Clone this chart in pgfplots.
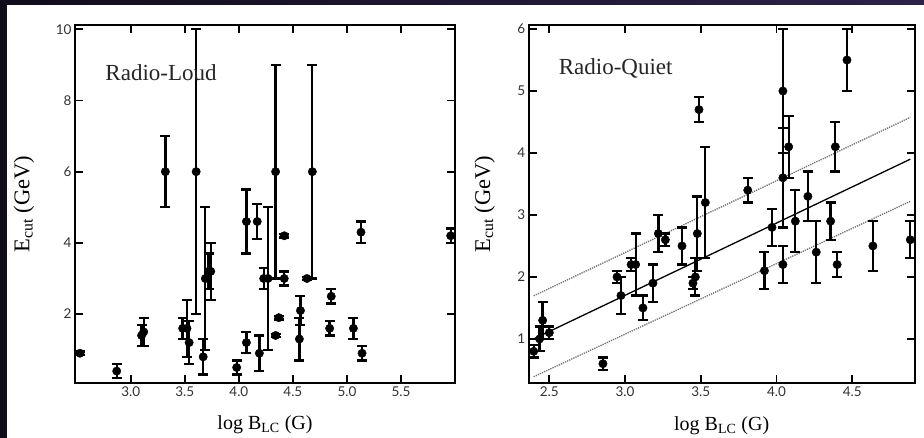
\documentclass[border=0pt]{standalone}
\usepackage{pgfplots}
\pgfplotsset{compat=1.18}
\usepackage{pgfplotstable}
\usepackage{fontspec}
\setmainfont{Liberation Serif}
\newfontfamily\ticksf{Lato}
\definecolor{frameA}{HTML}{110C1A}
\definecolor{frameB}{HTML}{2C2249}

\pgfplotstableread{
x y e
2.53 0.9 0.05
2.87 0.4 0.2
3.10 1.4 0.3
3.12 1.5 0.4
3.48 1.6 0.3
3.52 1.6 0.8
3.54 1.2 0.6
3.32 6.0 1.0
3.605 6.0 4.0
3.67 0.8 0.5
3.69 3.0 2.0
3.72 3.2 0.5
3.74 3.2 0.8
3.98 0.5 0.2
4.07 1.2 0.3
4.07 4.6 0.9
4.17 4.6 0.5
4.19 0.9 0.5
4.23 3.0 0.3
4.27 3.0 2.0
4.34 6.0 3.0
4.34 1.4 0.05
4.37 1.9 0.05
4.42 4.2 0.05
4.42 3.0 0.2
4.56 1.3 0.6
4.57 2.1 0.4
4.63 3.0 0.05
4.68 6.0 3.0
4.84 1.6 0.2
4.855 2.5 0.2
5.06 1.6 0.3
5.13 4.3 0.3
5.14 0.9 0.2
5.96 4.2 0.2
}\loud

\pgfplotstableread{
x y e
2.397 0.8 0.1
2.436 1.0 0.2
2.456 1.3 0.3
2.50 1.1 0.1
2.854 0.6 0.1
2.947 2.0 0.1
2.973 1.7 0.3
3.04 2.2 0.1
3.07 2.2 0.5
3.118 1.5 0.2
3.184 1.9 0.3
3.22 2.7 0.3
3.266 2.6 0.1
3.376 2.5 0.3
3.448 1.9 0.1
3.464 2.0 0.3
3.477 2.7 0.6
3.488 4.7 0.2
3.53 3.2 0.9
3.81 3.4 0.2
3.92 2.1 0.3
3.97 2.8 0.3
4.042 5.0 1.0
4.042 3.6 0.8
4.042 2.2 0.3
4.08 4.1 0.5
4.124 2.9 0.5
4.207 3.3 0.4
4.262 2.4 0.5
4.357 2.9 0.3
4.388 4.1 0.4
4.40 2.2 0.2
4.465 5.5 0.5
4.636 2.5 0.4
4.883 2.6 0.3
}\quiet

\pgfplotsset{
  panel/.style={
    scale only axis,
    anchor=south west,
    axis line style={line width=1.8pt, black},
    tick align=inside,
    major tick length=8pt,
    tick style={line width=1.7pt, black},
    xtick pos=both, ytick pos=both,
    /pgf/number format/assume math mode=true,
    tick label style={font=\ticksf\fontsize{13.5}{14}\selectfont, text=black!80},
    xticklabel style={/pgf/number format/.cd, fixed, fixed zerofill, precision=1},
    xlabel style={font=\fontsize{20}{22}\selectfont, at={(axis description cs:0.5,0)}, anchor=center, yshift=-42pt},
    ylabel style={font=\fontsize{22.5}{24}\selectfont, at={(axis description cs:0,0.5)}, anchor=center},
    clip=false,
  },
  pts/.style={
    only marks, mark=*, mark size=4.2pt, black, mark options={fill=black},
    error bars/.cd, y dir=both, y explicit,
    error bar style={line width=2.3pt, black},
    error mark options={rotate=90, mark size=5pt, line width=2.3pt, black},
  },
}

\begin{document}
\begin{tikzpicture}
\path[use as bounding box] (0,0) rectangle (924pt,438pt);
\fill[frameA] (0,0) rectangle (924pt,438pt);
\shade[left color=frameA, right color=frameB] (0,432.5pt) rectangle (924pt,438pt);
\fill[white] (7pt,0) rectangle (924pt,432.5pt);

\begin{axis}[panel,
  at={(75pt,55pt)}, width=380pt, height=358pt,
  xmin=2.484, xmax=6.0, ymin=0.065, ymax=10.12,
  xtick={3.0,3.5,4.0,4.5,5.0,5.5}, ytick={2,4,6,8,10},
  xlabel={log B\textsubscript{LC} (G)},
  ylabel={E\textsubscript{cut} (GeV)},
  ylabel style={yshift=51pt},
]
\addplot+[pts] table[x=x, y=y, y error=e] {\loud};
\node[font=\fontsize{23}{26}\selectfont, text=black!85] at (axis cs:3.28,8.79) {Radio-Loud};
\end{axis}

\begin{axis}[panel,
  at={(528.7pt,54.7pt)}, width=386pt, height=358.6pt,
  xmin=2.364, xmax=4.912, ymin=0.284, ymax=6.07,
  xtick={2.5,3.0,3.5,4.0,4.5}, ytick={1,2,3,4,5,6},
  xlabel={log B\textsubscript{LC} (G)},
  ylabel={E\textsubscript{cut} (GeV)},
  ylabel style={yshift=44pt},
]
\addplot[black, line width=1.3pt] coordinates {(2.397,1.0) (4.883,3.90)};
\addplot[black!55, line width=1.3pt, densely dotted] coordinates {(2.397,1.695) (4.883,4.575)};
\addplot[black!55, line width=1.3pt, densely dotted] coordinates {(2.397,0.39) (4.883,3.22)};
\addplot+[pts] table[x=x, y=y, y error=e] {\quiet};
\node[font=\fontsize{23}{26}\selectfont, text=black!85] at (axis cs:2.938,5.37) {Radio-Quiet};
\end{axis}
\end{tikzpicture}
\end{document}
